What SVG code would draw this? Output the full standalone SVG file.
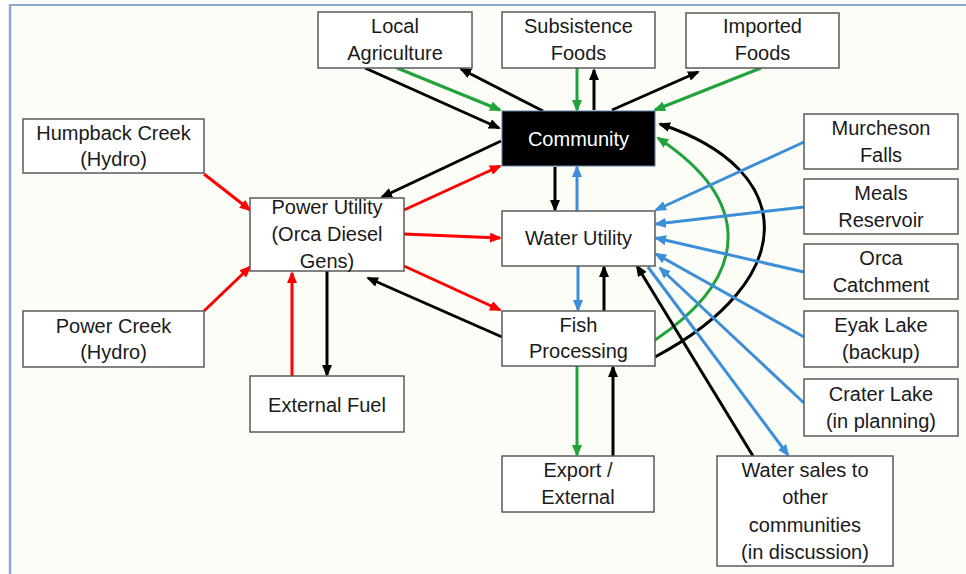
<svg xmlns="http://www.w3.org/2000/svg" width="966" height="574" viewBox="0 0 966 574">
  <defs>
    <style>
      .box { fill: #ffffff; stroke: #5a5a5a; stroke-width: 1.5; }
      .dark { fill: #000000; stroke: #5a7fa8; stroke-width: 1; }
      .lbl { font-family: "Liberation Sans", Arial, sans-serif; font-size: 20px; fill: #1a1a1a; text-anchor: middle; }
      .lbl-w { fill: #ffffff; }
      .c { fill: none; stroke-width: 3; }
      .k { stroke: #000000; marker-end: url(#ak); }
      .r { stroke: #ff0000; marker-end: url(#ar); }
      .g { stroke: #1fa33a; marker-end: url(#ag); }
      .b { stroke: #3d8ed8; marker-end: url(#ab); }
    </style>
    <marker id="ak" markerUnits="userSpaceOnUse" markerWidth="12" markerHeight="10" refX="10" refY="5" orient="auto">
      <path d="M0,0 L12,5 L0,10 z" fill="#000000"/>
    </marker>
    <marker id="ar" markerUnits="userSpaceOnUse" markerWidth="12" markerHeight="10" refX="10" refY="5" orient="auto">
      <path d="M0,0 L12,5 L0,10 z" fill="#ff0000"/>
    </marker>
    <marker id="ag" markerUnits="userSpaceOnUse" markerWidth="12" markerHeight="10" refX="10" refY="5" orient="auto">
      <path d="M0,0 L12,5 L0,10 z" fill="#1fa33a"/>
    </marker>
    <marker id="ab" markerUnits="userSpaceOnUse" markerWidth="12" markerHeight="10" refX="10" refY="5" orient="auto">
      <path d="M0,0 L12,5 L0,10 z" fill="#3d8ed8"/>
    </marker>
  </defs>

  <!-- page and frame -->
  <rect x="0" y="0" width="966" height="574" fill="#ffffff"/>
  <rect x="10" y="5" width="956" height="569" fill="#fdfdf7"/>
  <line x1="9" y1="5" x2="966" y2="5" stroke="#8ea9c9" stroke-width="2"/>
  <line x1="10" y1="4" x2="10" y2="574" stroke="#8ea9c9" stroke-width="2.5"/>

  <!-- connectors -->
  <g id="connectors">
    <!-- food flows -->
    <path class="c k" d="M365,68 L499,128"/>
    <path class="c g" d="M397,68 L500,110"/>
    <path class="c k" d="M543,111 L461,69"/>
    <path class="c g" d="M577,68 L577,110"/>
    <path class="c k" d="M594,110 L594,70"/>
    <path class="c k" d="M612,110 L698,72"/>
    <path class="c g" d="M761,68 L655,110"/>
    <!-- power flows -->
    <path class="c k" d="M501,141 L382,197"/>
    <path class="c r" d="M404,210 L500,166"/>
    <path class="c r" d="M404,234 L500,238"/>
    <path class="c r" d="M404,266 L500,310"/>
    <path class="c k" d="M502,337 L368,278"/>
    <path class="c r" d="M204,174 L250,210"/>
    <path class="c r" d="M204,311 L250,267"/>
    <path class="c r" d="M292,376 L292,273"/>
    <path class="c k" d="M327,271 L327,375"/>
    <!-- central spine -->
    <path class="c k" d="M555,167 L555,210"/>
    <path class="c b" d="M577,211 L577,167"/>
    <path class="c b" d="M578,266 L578,310"/>
    <path class="c k" d="M604,311 L604,267"/>
    <path class="c g" d="M577,366 L577,455"/>
    <path class="c k" d="M613,456 L613,367"/>
    <!-- fish processing back to community -->
    <path class="c g" d="M655,340 C752,275 752,200 658,138"/>
    <path class="c k" d="M655,357 C800,280 800,170 660,124"/>
    <!-- water sources -->
    <path class="c b" d="M804,142 L656,210"/>
    <path class="c b" d="M804,207 L656,224"/>
    <path class="c b" d="M804,272 L656,238"/>
    <path class="c b" d="M804,337 L656,254"/>
    <path class="c b" d="M804,403 L660,268"/>
    <path class="c b" d="M648,267 L788,455"/>
    <path class="c k" d="M753,456 L637,266"/>
  </g>

  <!-- nodes -->
  <g id="local-agriculture">
    <rect class="box" x="318" y="12" width="154" height="56"/>
    <text class="lbl" x="395" y="33">Local</text>
    <text class="lbl" x="395" y="60">Agriculture</text>
  </g>
  <g id="subsistence-foods">
    <rect class="box" x="502" y="12" width="153" height="56"/>
    <text class="lbl" x="578.5" y="33">Subsistence</text>
    <text class="lbl" x="578.5" y="60">Foods</text>
  </g>
  <g id="imported-foods">
    <rect class="box" x="686" y="13" width="153" height="55"/>
    <text class="lbl" x="762.5" y="33">Imported</text>
    <text class="lbl" x="762.5" y="60">Foods</text>
  </g>
  <g id="community">
    <rect class="dark" x="502" y="111" width="153" height="55"/>
    <text class="lbl lbl-w" x="578.5" y="146">Community</text>
  </g>
  <g id="humpback-creek">
    <rect class="box" x="23" y="119" width="181" height="54"/>
    <text class="lbl" x="113.5" y="140">Humpback Creek</text>
    <text class="lbl" x="113.5" y="166">(Hydro)</text>
  </g>
  <g id="power-creek">
    <rect class="box" x="23" y="311" width="181" height="56"/>
    <text class="lbl" x="113.5" y="333">Power Creek</text>
    <text class="lbl" x="113.5" y="359">(Hydro)</text>
  </g>
  <g id="power-utility">
    <rect class="box" x="250" y="198" width="154" height="73"/>
    <text class="lbl" x="327" y="214">Power Utility</text>
    <text class="lbl" x="327" y="241">(Orca Diesel</text>
    <text class="lbl" x="327" y="268">Gens)</text>
  </g>
  <g id="external-fuel">
    <rect class="box" x="250" y="376" width="154" height="56"/>
    <text class="lbl" x="327" y="412">External Fuel</text>
  </g>
  <g id="water-utility">
    <rect class="box" x="502" y="211" width="153" height="55"/>
    <text class="lbl" x="578.5" y="245">Water Utility</text>
  </g>
  <g id="fish-processing">
    <rect class="box" x="502" y="311" width="153" height="55"/>
    <text class="lbl" x="578.5" y="332">Fish</text>
    <text class="lbl" x="578.5" y="358">Processing</text>
  </g>
  <g id="export-external">
    <rect class="box" x="502" y="456" width="152" height="56"/>
    <text class="lbl" x="578" y="477">Export /</text>
    <text class="lbl" x="578" y="504">External</text>
  </g>
  <g id="water-sales">
    <rect class="box" x="717" y="456" width="176" height="110"/>
    <text class="lbl" x="805" y="477">Water sales to</text>
    <text class="lbl" x="805" y="504">other</text>
    <text class="lbl" x="805" y="532">communities</text>
    <text class="lbl" x="805" y="559">(in discussion)</text>
  </g>
  <g id="murcheson-falls">
    <rect class="box" x="804" y="114" width="154" height="55"/>
    <text class="lbl" x="881" y="135">Murcheson</text>
    <text class="lbl" x="881" y="162">Falls</text>
  </g>
  <g id="meals-reservoir">
    <rect class="box" x="804" y="179" width="154" height="55"/>
    <text class="lbl" x="881" y="200">Meals</text>
    <text class="lbl" x="881" y="227">Reservoir</text>
  </g>
  <g id="orca-catchment">
    <rect class="box" x="804" y="244" width="154" height="55"/>
    <text class="lbl" x="881" y="265">Orca</text>
    <text class="lbl" x="881" y="292">Catchment</text>
  </g>
  <g id="eyak-lake">
    <rect class="box" x="804" y="311" width="154" height="56"/>
    <text class="lbl" x="881" y="332">Eyak Lake</text>
    <text class="lbl" x="881" y="359">(backup)</text>
  </g>
  <g id="crater-lake">
    <rect class="box" x="804" y="379" width="154" height="57"/>
    <text class="lbl" x="881" y="401">Crater Lake</text>
    <text class="lbl" x="881" y="428">(in planning)</text>
  </g>
</svg>
